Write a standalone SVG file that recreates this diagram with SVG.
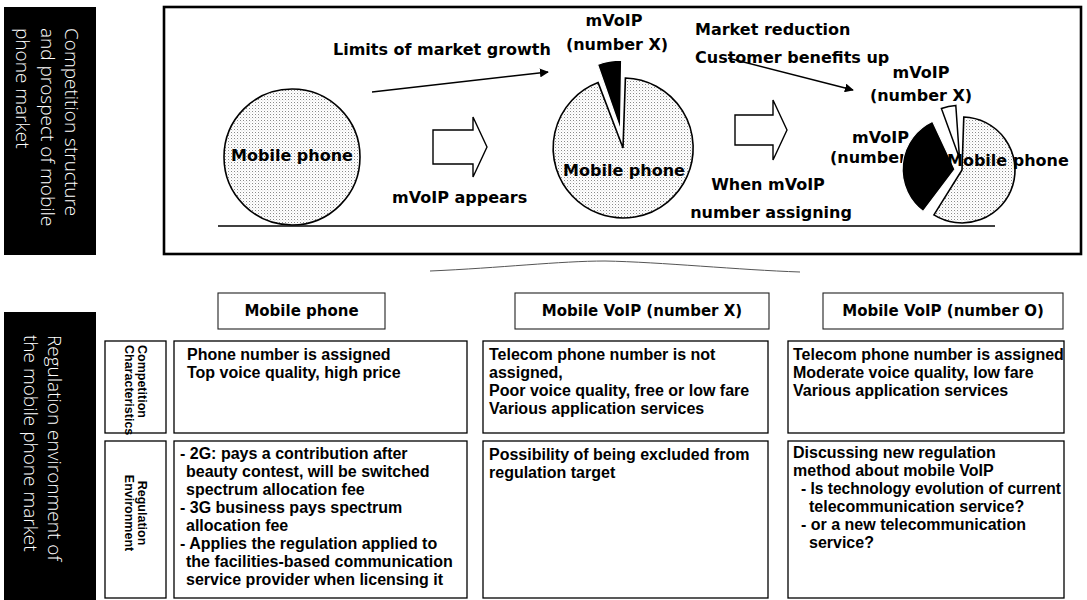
<svg xmlns="http://www.w3.org/2000/svg" width="1087" height="600" viewBox="0 0 1087 600">
  <defs>
    <!-- light stipple used for the mobile phone share -->
    <pattern id="dots" width="3" height="3" patternUnits="userSpaceOnUse">
      <rect width="3" height="3" fill="#ffffff"/>
      <rect x="0" y="0" width="1" height="1" fill="#8a8a8a"/>
      <rect x="1.5" y="1.5" width="0.8" height="0.8" fill="#bdbdbd"/>
    </pattern>
    <marker id="head" viewBox="0 0 10 10" refX="9" refY="5" markerWidth="9" markerHeight="9" orient="auto" markerUnits="userSpaceOnUse">
      <path d="M0,0 L10,5 L0,10 Z" fill="#000"/>
    </marker>
  </defs>
  <style>
    .band { fill: #000; }
    .bandtxt { fill: #fff; font-family: "Open Sans", "DejaVu Sans", sans-serif; font-weight: 300; font-size: 19px; }
    .frame { fill: #fff; stroke: #000; stroke-width: 2.6; }
    .lbl { font-family: "DejaVu Sans", "Verdana", sans-serif; font-weight: bold; font-size: 16px; fill: #000; }
    .pie { fill: url(#dots); stroke: #000; stroke-width: 1.6; }
    .black { fill: #000; stroke: #fff; stroke-width: 1.2; }
    .white { fill: #fff; stroke: #000; stroke-width: 1.5; }
    .blk { fill: #fff; stroke: #000; stroke-width: 1.4; }
    .ln { fill: none; stroke: #000; stroke-width: 1.6; }
    .hdr { fill: #fff; stroke: #222; stroke-width: 1.1; }
    .hdrtxt { font-family: "DejaVu Sans", "Verdana", sans-serif; font-weight: bold; font-size: 15px; fill: #000; text-anchor: middle; }
    .cell { fill: #fff; stroke: #000; stroke-width: 1.3; }
    .txt { font-family: "Liberation Sans", Arial, sans-serif; font-weight: bold; font-size: 16px; fill: #000; }
    .side { font-family: "Liberation Sans", Arial, sans-serif; font-weight: bold; font-size: 12.5px; fill: #000; }
  </style>

  <rect width="1087" height="600" fill="#fff"/>

  <!-- left section bands -->
  <g id="band-market">
    <rect class="band" x="4" y="7" width="92" height="248"/>
    <g transform="translate(65,28) rotate(90)"><text class="bandtxt" x="0" y="0">Competition structure</text></g>
    <g transform="translate(41,28) rotate(90)"><text class="bandtxt" x="0" y="0">and prospect of mobile</text></g>
    <g transform="translate(16,28) rotate(90)"><text class="bandtxt" x="0" y="0">phone market</text></g>
  </g>
  <g id="band-regulation">
    <rect class="band" x="4" y="312" width="92" height="288"/>
    <g transform="translate(48,335) rotate(90)"><text class="bandtxt" x="0" y="0">Regulation environment of</text></g>
    <g transform="translate(24,335) rotate(90)"><text class="bandtxt" x="0" y="0">the mobile phone market</text></g>
  </g>

  <!-- market outlook panel -->
  <g id="market-panel">
    <rect class="frame" x="164" y="7" width="917" height="247"/>
    <line class="ln" x1="218" y1="226" x2="995" y2="226"/>
  </g>

  <g id="stage-1">
    <circle class="pie" cx="292" cy="157" r="68"/>
    <text class="lbl" x="292" y="161" text-anchor="middle">Mobile phone</text>
  </g>

  <g id="step-1">
    <path class="blk" d="M433,130 H473 V117 L487,147 L473,177 V164 H433 Z"/>
    <text class="lbl" x="392" y="203">mVoIP appears</text>
  </g>

  <g id="stage-2">
    <path class="pie" d="M623,148 L625.4,78 A70,70 0 1 1 598.1,82.6 Z"/>
    <path class="black" d="M620.5,130.2 L597.5,64.4 A70,70 0 0 1 621.7,60.2 Z"/>
    <text class="lbl" x="624" y="176" text-anchor="middle">Mobile phone</text>
    <text class="lbl" x="614" y="26" text-anchor="middle">mVoIP</text>
    <text class="lbl" x="617" y="50" text-anchor="middle">(number X)</text>
  </g>

  <g id="step-2">
    <path class="blk" d="M735,115 H773 V100 L787,130 L773,160 V145 H735 Z"/>
    <text class="lbl" x="768" y="190" text-anchor="middle">When mVoIP</text>
    <text class="lbl" x="771" y="218" text-anchor="middle">number assigning</text>
  </g>

  <g id="stage-3">
    <text class="lbl" x="852" y="143">mVoIP</text>
    <text class="lbl" x="830" y="163">(number O)</text>
    <path class="pie" d="M962,170 L963.8,117 A53,53 0 1 1 933.9,214.9 Z"/>
    <path class="black" d="M955,169.3 L923.1,211.6 A53,53 0 0 1 932.6,121.3 Z"/>
    <path class="white" d="M959.5,158.3 L941.4,108.5 A53,53 0 0 1 955.8,105.4 Z"/>
    <text class="lbl" x="947" y="166">Mobile phone</text>
    <text class="lbl" x="921" y="78" text-anchor="middle">mVoIP</text>
    <text class="lbl" x="921" y="101" text-anchor="middle">(number X)</text>
  </g>

  <g id="trend-notes">
    <text class="lbl" x="333" y="55">Limits of market growth</text>
    <text class="lbl" x="695" y="35">Market reduction</text>
    <text class="lbl" x="695" y="63">Customer benefits up</text>
  </g>

  <!-- connectors -->
  <g id="connectors">
    <line class="ln" x1="372" y1="92" x2="548" y2="72" marker-end="url(#head)"/>
    <line class="ln" x1="728" y1="58" x2="853" y2="90" marker-end="url(#head)"/>
    <path d="M430,271 C500,268 560,261 605,261 C660,262 740,270 800,272" fill="none" stroke="#555" stroke-width="1"/>
  </g>

  <!-- column headings -->
  <g id="head-mobile">
    <rect class="hdr" x="218" y="293" width="167" height="36"/>
    <text class="hdrtxt" x="301.5" y="316">Mobile phone</text>
  </g>
  <g id="head-voip-x">
    <rect class="hdr" x="515" y="293" width="254" height="36"/>
    <text class="hdrtxt" x="642" y="316">Mobile VoIP (number X)</text>
  </g>
  <g id="head-voip-o">
    <rect class="hdr" x="823" y="293" width="240" height="36"/>
    <text class="hdrtxt" x="943" y="316">Mobile VoIP (number O)</text>
  </g>

  <!-- row headings -->
  <g id="row-competition">
    <rect class="cell" x="105" y="341" width="61" height="92"/>
    <g transform="translate(138,345) rotate(90)"><text class="side" x="0" y="0">Competition</text></g>
    <g transform="translate(125,345) rotate(90)"><text class="side" x="0" y="0">Characteristics</text></g>
  </g>
  <g id="row-regulation">
    <rect class="cell" x="105" y="441" width="61" height="157"/>
    <g transform="translate(138,513) rotate(90)"><text class="side" x="0" y="0" text-anchor="middle">Regulation</text></g>
    <g transform="translate(125,513) rotate(90)"><text class="side" x="0" y="0" text-anchor="middle">Environment</text></g>
  </g>

  <!-- competition characteristics -->
  <g id="cell-mobile-competition">
    <rect class="cell" x="174" y="341" width="293" height="92"/>
    <text class="txt" x="187" y="360">Phone number is assigned</text>
    <text class="txt" x="187" y="377.5">Top voice quality, high price</text>
  </g>
  <g id="cell-voipx-competition">
    <rect class="cell" x="483" y="341" width="285" height="92"/>
    <text class="txt" x="489" y="360">Telecom phone number is not</text>
    <text class="txt" x="489" y="378">assigned,</text>
    <text class="txt" x="489" y="396">Poor voice quality, free or low fare</text>
    <text class="txt" x="489" y="414">Various application services</text>
  </g>
  <g id="cell-voipo-competition">
    <rect class="cell" x="788" y="341" width="276" height="92"/>
    <text class="txt" x="793" y="360">Telecom phone number is assigned</text>
    <text class="txt" x="793" y="378">Moderate voice quality, low fare</text>
    <text class="txt" x="793" y="396">Various application services</text>
  </g>

  <!-- regulation environment -->
  <g id="cell-mobile-regulation">
    <rect class="cell" x="174" y="441" width="293" height="157"/>
    <text class="txt" x="180" y="459">- 2G: pays a contribution after</text>
    <text class="txt" x="186" y="477">beauty contest, will be switched</text>
    <text class="txt" x="186" y="495">spectrum allocation fee</text>
    <text class="txt" x="180" y="513">- 3G business pays spectrum</text>
    <text class="txt" x="186" y="531">allocation fee</text>
    <text class="txt" x="180" y="549">- Applies the regulation applied to</text>
    <text class="txt" x="186" y="567">the facilities-based communication</text>
    <text class="txt" x="186" y="585">service provider when licensing it</text>
  </g>
  <g id="cell-voipx-regulation">
    <rect class="cell" x="483" y="441" width="285" height="157"/>
    <text class="txt" x="489" y="460">Possibility of being excluded from</text>
    <text class="txt" x="489" y="478">regulation target</text>
  </g>
  <g id="cell-voipo-regulation">
    <rect class="cell" x="788" y="441" width="276" height="157"/>
    <text class="txt" x="793" y="458">Discussing new regulation</text>
    <text class="txt" x="793" y="476">method about mobile VoIP</text>
    <text class="txt" x="801" y="494" textLength="260" lengthAdjust="spacingAndGlyphs">- Is technology evolution of current</text>
    <text class="txt" x="809" y="512">telecommunication service?</text>
    <text class="txt" x="801" y="530">- or a new telecommunication</text>
    <text class="txt" x="809" y="548">service?</text>
  </g>
</svg>
